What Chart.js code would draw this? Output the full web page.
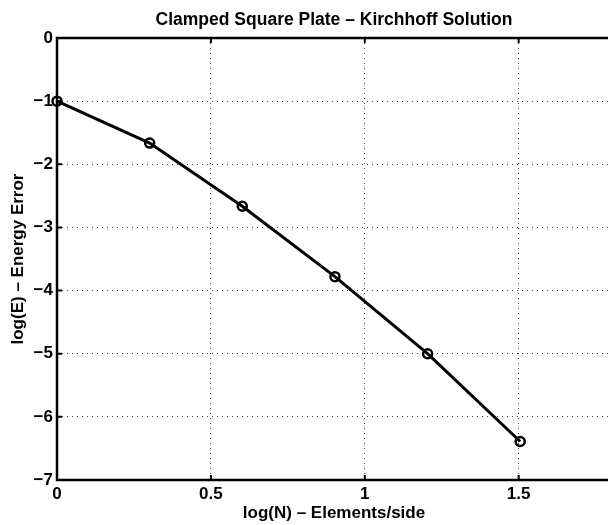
<!DOCTYPE html>
<html>
<head>
<meta charset="utf-8">
<script src="https://cdn.jsdelivr.net/npm/chart.js@4/dist/chart.umd.min.js"></script>
<style>
  html, body { margin: 0; padding: 0; overflow: hidden; background: #fff; }
  #wrap { width: 618px; height: 525px; }
</style>
</head>
<body>
<div id="wrap"><canvas id="c" width="618" height="525"></canvas></div>
<script>
// log10 of elements per side
const logN = [0, 0.301, 0.602, 0.903, 1.204, 1.505];
// log10 of energy error
const logE = [-1, -1.664, -2.665, -3.78, -5.0, -6.39];

const xTicks = [0, 0.5, 1, 1.5];
const yTicks = [0, -1, -2, -3, -4, -5, -6, -7];

const FONT = 'Liberation Sans, Arial, Helvetica, sans-serif';
const minus = (v) => String(v).replace('-', '\u2212');

// MATLAB style: short inward tick marks and the box
const innerTicks = {
  id: 'innerTicks',
  afterDatasetsDraw(chart) {
    const { ctx, chartArea: a, scales: { x, y } } = chart;
    ctx.save();
    ctx.strokeStyle = '#000';
    ctx.lineWidth = 2;
    ctx.beginPath();
    xTicks.forEach(t => {
      const px = x.getPixelForValue(t);
      ctx.moveTo(px, a.bottom); ctx.lineTo(px, a.bottom - 5);
      ctx.moveTo(px, a.top); ctx.lineTo(px, a.top + 5);
    });
    yTicks.forEach(t => {
      const py = y.getPixelForValue(t);
      ctx.moveTo(a.left, py); ctx.lineTo(a.left + 5, py);
    });
    ctx.stroke();
    ctx.lineWidth = 2.5;
    ctx.beginPath();
    ctx.moveTo(a.right + 5, a.top); ctx.lineTo(a.left, a.top);
    ctx.lineTo(a.left, a.bottom); ctx.lineTo(a.right + 5, a.bottom);
    ctx.stroke();
    ctx.restore();
  }
};

new Chart(document.getElementById('c'), {
  type: 'line',
  data: {
    datasets: [{
      data: logN.map((v, i) => ({ x: v, y: logE[i] })),
      borderColor: '#000',
      borderWidth: 3,
      pointRadius: 4.5,
      pointBorderWidth: 2.5,
      pointBorderColor: '#000',
      pointBackgroundColor: 'rgba(0,0,0,0)',
      tension: 0,
      clip: false
    }]
  },
  options: {
    responsive: false,
    animation: false,
    plugins: {
      legend: { display: false },
      tooltip: { enabled: false },
      title: {
        display: true,
        fullSize: false,
        text: 'Clamped Square Plate \u2013 Kirchhoff Solution',
        color: '#000',
        font: { family: FONT, size: 17.5, weight: 'bold' },
        padding: { top: 10, bottom: 7 }
      }
    },
    scales: {
      x: {
        type: 'linear',
        min: 0,
        max: 1.8,
        afterBuildTicks: (s) => { s.ticks = xTicks.map(v => ({ value: v })); },
        afterFit: (s) => { s.height = 45; },
        border: { display: false, dash: [1, 4] },
        grid: { color: '#444', lineWidth: 1, drawTicks: false },
        ticks: {
          color: '#000', padding: 4, maxRotation: 0,
          font: { family: FONT, size: 17, weight: 'bold' },
          callback: (v) => minus(v)
        },
        title: {
          display: true,
          text: 'log(N) \u2013 Elements/side',
          color: '#000',
          font: { family: FONT, size: 17, weight: 'bold' },
          padding: { top: 0, bottom: 1 }
        }
      },
      y: {
        type: 'linear',
        min: -7,
        max: 0,
        afterBuildTicks: (s) => { s.ticks = yTicks.map(v => ({ value: v })); },
        afterFit: (s) => { s.width = 57; },
        border: { display: false, dash: [1, 4] },
        grid: { color: '#444', lineWidth: 1, drawTicks: false },
        ticks: {
          color: '#000', padding: 4,
          font: { family: FONT, size: 17, weight: 'bold' },
          callback: (v) => minus(v)
        },
        title: {
          display: true,
          text: 'log(E) \u2013 Energy Error',
          color: '#000',
          font: { family: FONT, size: 17, weight: 'bold' },
          padding: { top: 8, bottom: 0 }
        }
      }
    }
  },
  plugins: [innerTicks]
});
</script>
</body>
</html>
